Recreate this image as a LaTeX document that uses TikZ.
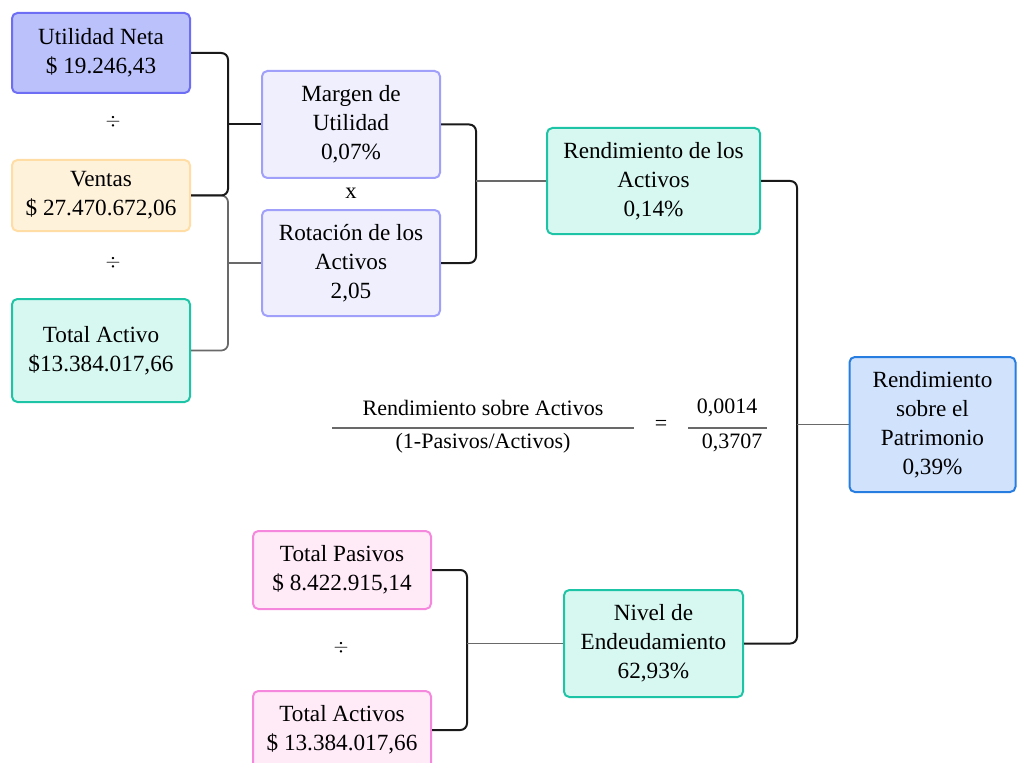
\documentclass[tikz,border=0pt]{standalone}
\usepackage{fontspec}
\newfontfamily\srf{Liberation Serif}
\definecolor{unFill}{RGB}{187,193,250}
\definecolor{unLine}{RGB}{110,110,245}
\definecolor{veFill}{RGB}{255,242,219}
\definecolor{veLine}{RGB}{255,221,165}
\definecolor{tlFill}{RGB}{214,248,241}
\definecolor{tlLine}{RGB}{30,196,166}
\definecolor{lvFill}{RGB}{239,239,253}
\definecolor{lvLine}{RGB}{160,160,250}
\definecolor{blFill}{RGB}{208,226,252}
\definecolor{blLine}{RGB}{40,125,225}
\definecolor{pkFill}{RGB}{255,234,248}
\definecolor{pkLine}{RGB}{245,135,220}
\definecolor{brk}{RGB}{25,25,25}
\definecolor{stem}{RGB}{105,105,105}
\tikzset{
  box/.style={rounded corners=4, line width=1.5pt, align=center, inner sep=0pt,
    font=\srf\fontsize{17.4}{21.8}\selectfont},
  bracket/.style={draw=brk, line width=1.5pt, rounded corners=5},
  graybracket/.style={draw=stem, line width=1.3pt, rounded corners=5},
  stemline/.style={draw=stem, line width=1.2pt},
  op/.style={font=\srf\fontsize{14}{16}\selectfont, inner sep=0pt},
  plain/.style={font=\srf\fontsize{16.5}{20}\selectfont, inner sep=0pt}
}
\begin{document}
\begin{tikzpicture}[x=0.75pt,y=-0.75pt]
\useasboundingbox (0,0) rectangle (1017,763);
% left column
\node[box, fill=unFill, draw=unLine, minimum width=178*0.75pt, minimum height=80*0.75pt] (un) at (101,53) {Utilidad Neta\\\$ 19.246,43};
\node[op] (d1) at (113,122) {\(\div\)};
\node[box, fill=veFill, draw=veLine, minimum width=178*0.75pt, minimum height=71*0.75pt] (ve) at (101,195.5) {Ventas\\\$ 27.470.672,06};
\node[op] (d2) at (113,263) {\(\div\)};
\node[box, fill=tlFill, draw=tlLine, minimum width=178*0.75pt, minimum height=103*0.75pt] (ta) at (101,350.5) {Total Activo\\\$13.384.017,66};
% middle column
\node[box, fill=lvFill, draw=lvLine, minimum width=178*0.75pt, minimum height=107*0.75pt] (mu) at (351,124.5) {Margen de\\Utilidad\\0,07\%};
\node[op, font=\srf\fontsize{17}{20}\selectfont] (xx) at (351,193) {x};
\node[box, fill=lvFill, draw=lvLine, minimum width=178*0.75pt, minimum height=106*0.75pt] (ra) at (351,263) {Rotación de los\\Activos\\2,05};
% right middle
\node[box, fill=tlFill, draw=tlLine, minimum width=213*0.75pt, minimum height=106*0.75pt] (rea) at (653.5,181) {Rendimiento de los\\Activos\\0,14\%};
\node[box, fill=blFill, draw=blLine, minimum width=166*0.75pt, minimum height=135*0.75pt] (rp) at (932.5,424.5) {Rendimiento\\sobre el\\Patrimonio\\0,39\%};
% bottom
\node[box, fill=pkFill, draw=pkLine, minimum width=178*0.75pt, minimum height=78*0.75pt] (tp) at (342,570) {Total Pasivos\\\$ 8.422.915,14};
\node[op] (d3) at (341,648) {\(\div\)};
\node[box, fill=pkFill, draw=pkLine, minimum width=178*0.75pt, minimum height=78*0.75pt] (tac) at (342,730) {Total Activos\\\$ 13.384.017,66};
\node[box, fill=tlFill, draw=tlLine, minimum width=179*0.75pt, minimum height=107*0.75pt] (ne) at (653.5,643.5) {Nivel de\\Endeudamiento\\62,93\%};
% fraction
\node[plain] (num) at (483,408) {Rendimiento sobre Activos};
\node[plain] (den) at (483,443) {(1-Pasivos/Activos)};
\draw[draw=stem, line width=1.5pt] (332,428) -- (634,428);
\node[plain] (eq) at (661,425) {=};
\node[plain] (n2) at (727,408) {0,0014};
\node[plain] (d2b) at (732,443) {0,3707};
\draw[draw=stem, line width=1.5pt] (688,428) -- (767,428);
% connectors
\coordinate (b1) at (228,0);
\coordinate (b2) at (476,0);
\coordinate (b3) at (797,0);
\coordinate (b4) at (467,0);
\draw[graybracket] (ve.east) -- (ve.east -| b1) -- (ta.east -| b1) -- (ta.east);
\draw[bracket] (un.east) -- (un.east -| b1) -- (ve.east -| b1) -- (ve.east);
\draw[bracket] (mu.west -| b1) -- (mu.west);
\draw[stemline] (ra.west -| b1) -- (ra.west);
\draw[bracket] (mu.east) -- (mu.east -| b2) -- (ra.east -| b2) -- (ra.east);
\draw[stemline] (rea.west -| b2) -- (rea.west);
\draw[bracket] (rea.east) -- (rea.east -| b3) -- (ne.east -| b3) -- (ne.east);
\draw[stemline] (rp.west -| b3) -- (rp.west);
\draw[bracket] (tp.east) -- (tp.east -| b4) -- (tac.east -| b4) -- (tac.east);
\draw[stemline] (ne.west -| b4) -- (ne.west);
\end{tikzpicture}
\end{document}
